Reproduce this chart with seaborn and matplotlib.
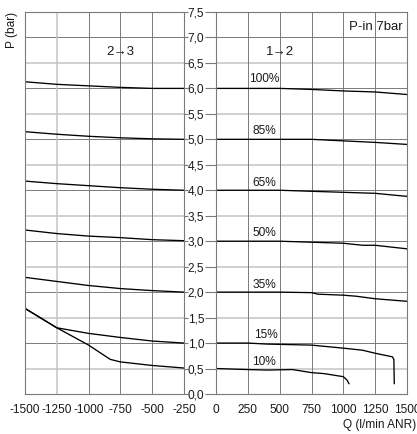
import matplotlib
matplotlib.use("Agg")
import matplotlib.pyplot as plt
import seaborn as sns
import pandas as pd

# ---- data ----
q_left = [-1500, -1250, -1000, -750, -500, -250]
p100_left = [6.13, 6.08, 6.05, 6.02, 6.00, 6.00]
p85_left = [5.15, 5.10, 5.06, 5.03, 5.01, 5.00]
p65_left = [4.18, 4.13, 4.09, 4.05, 4.02, 4.00]
p50_left = [3.22, 3.15, 3.10, 3.07, 3.03, 3.01]
p35_left = [2.29, 2.21, 2.13, 2.07, 2.03, 2.00]
p15_left = [1.68, 1.30, 1.19, 1.11, 1.04, 1.00]
q10_left = [-1500, -1250, -1000, -830, -750, -500, -250]
p10_left = [1.68, 1.30, 0.96, 0.68, 0.63, 0.56, 0.51]

q100_right = [0, 500, 750, 1000, 1250, 1500]
p100_right = [6.00, 6.00, 5.98, 5.95, 5.93, 5.88]
q85_right = [0, 750, 1000, 1250, 1500]
p85_right = [5.00, 5.00, 4.97, 4.94, 4.90]
q65_right = [0, 500, 750, 1000, 1250, 1500]
p65_right = [4.00, 4.00, 3.98, 3.96, 3.94, 3.88]
q50_right = [0, 500, 750, 1000, 1150, 1250, 1500]
p50_right = [3.00, 3.00, 2.98, 2.96, 2.92, 2.92, 2.85]
q35_right = [0, 500, 750, 800, 1000, 1100, 1250, 1500]
p35_right = [2.00, 2.00, 1.99, 1.96, 1.94, 1.92, 1.87, 1.82]
q15_right = [0, 250, 400, 750, 1000, 1150, 1250, 1385, 1397, 1400]
p15_right = [1.00, 1.00, 0.98, 0.96, 0.90, 0.86, 0.80, 0.73, 0.68, 0.20]
q10_right = [0, 250, 400, 600, 750, 850, 950, 1000, 1030, 1045]
p10_right = [0.50, 0.48, 0.47, 0.48, 0.42, 0.40, 0.36, 0.34, 0.27, 0.20]

pct_labels = ["100%", "85%", "65%", "50%", "35%", "15%", "10%"]
pct_label_q = [375, 380, 380, 380, 380, 390, 380]
pct_label_p = [6.18, 5.17, 4.15, 3.17, 2.14, 1.15, 0.63]

xticks_left = [-1500, -1250, -1000, -750, -500, -250]
xticks_right = [0, 250, 500, 750, 1000, 1250, 1500]
yticks = [0.0, 0.5, 1.0, 1.5, 2.0, 2.5, 3.0, 3.5, 4.0, 4.5, 5.0, 5.5, 6.0, 6.5, 7.0, 7.5]

left_series = [
    (q_left, p100_left), (q_left, p85_left), (q_left, p65_left),
    (q_left, p50_left), (q_left, p35_left), (q_left, p15_left),
    (q10_left, p10_left),
]
right_series = [
    (q100_right, p100_right), (q85_right, p85_right), (q65_right, p65_right),
    (q50_right, p50_right), (q35_right, p35_right), (q15_right, p15_right),
    (q10_right, p10_right),
]

# ---- style ----
sns.set_style("white")
plt.rcParams["font.family"] = ["Liberation Sans", "DejaVu Sans"]
plt.rcParams["axes.unicode_minus"] = False
TXT = "#1a1a1a"
DARK = "#7a7a7a"
LIGHT = "#c4c4c4"
FS = 8.6

fig = plt.figure(figsize=(4.17, 4.34), dpi=100)
axL = fig.add_axes([25 / 417, 40 / 434, 159 / 417, 382 / 434])
axR = fig.add_axes([216 / 417, 40 / 434, 191 / 417, 382 / 434])

for ax, xt, xlim in ((axL, xticks_left, (-1500, -250)), (axR, xticks_right, (0, 1500))):
    ax.set_xlim(*xlim)
    ax.set_ylim(0, 7.5)
    for y in yticks[1:-1]:
        c, lw = (DARK, 0.7) if float(y).is_integer() else (LIGHT, 1.1)
        ax.axhline(y, color=c, lw=lw, zorder=0)
    for x in xt[1:-1]:
        c, lw = (LIGHT, 1.1) if x == -1250 else (DARK, 0.7)
        ax.axvline(x, color=c, lw=lw, zorder=0)
    for s in ax.spines.values():
        s.set_color(DARK)
        s.set_linewidth(0.8)
        s.set_visible(True)
    ax.set_xticks(xt)
    ax.set_xticklabels([str(v) for v in xt])
    ax.tick_params(axis="x", length=0, pad=7, labelsize=FS, labelcolor=TXT)
    ax.set_yticks(yticks)

axL.tick_params(axis="y", left=False, right=True, labelleft=False, labelright=False,
                length=3, color=DARK, direction="out")
axR.set_yticklabels([f"{v:.1f}".replace(".", ",") for v in yticks])
axR.tick_params(axis="y", left=True, labelleft=True, length=8, pad=0.5, color=DARK,
                direction="out", labelsize=FS, labelcolor=TXT)

for q, p in left_series:
    sns.lineplot(x=q, y=p, ax=axL, color="black", lw=0.95, sort=False, legend=False)
for q, p in right_series:
    sns.lineplot(x=q, y=p, ax=axR, color="black", lw=0.95, sort=False, legend=False)

for lab, q, p in zip(pct_labels, pct_label_q, pct_label_p):
    axR.text(q, p, lab, ha="center", va="center", fontsize=FS, color=TXT)

axL.text(-750, 6.72, "2→3", ha="center", va="center", fontsize=9.5, color=TXT)
axR.text(500, 6.72, "1→2", ha="center", va="center", fontsize=9.5, color=TXT)
axR.text(1465, 7.2, "P-in 7bar", ha="right", va="center", fontsize=9.5, color=TXT)

fig.text(12 / 417, 1 - 12 / 434, "P (bar)", rotation=90, ha="center", va="top",
         fontsize=FS, color=TXT)
fig.text(416 / 417, 1 - 425 / 434, "Q (l/min ANR)", ha="right", va="center",
         fontsize=FS, color=TXT)

fig.savefig("out.png", dpi=100)
